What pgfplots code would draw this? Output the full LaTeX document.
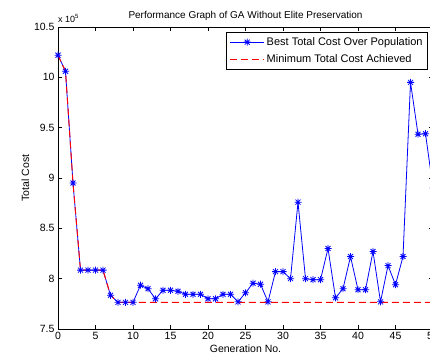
\documentclass[border=0pt]{standalone}
\usepackage{fontspec}
\setmainfont{Liberation Sans}
\usepackage{pgfplots}
\pgfplotsset{compat=1.18}
\pgfdeclareplotmark{mstar}{%
  \pgfpathmoveto{\pgfqpoint{-\pgfplotmarksize}{0pt}}\pgfpathlineto{\pgfqpoint{\pgfplotmarksize}{0pt}}%
  \pgfpathmoveto{\pgfqpoint{0pt}{-\pgfplotmarksize}}\pgfpathlineto{\pgfqpoint{0pt}{\pgfplotmarksize}}%
  \pgfpathmoveto{\pgfqpoint{-.7071\pgfplotmarksize}{-.7071\pgfplotmarksize}}\pgfpathlineto{\pgfqpoint{.7071\pgfplotmarksize}{.7071\pgfplotmarksize}}%
  \pgfpathmoveto{\pgfqpoint{-.7071\pgfplotmarksize}{.7071\pgfplotmarksize}}\pgfpathlineto{\pgfqpoint{.7071\pgfplotmarksize}{-.7071\pgfplotmarksize}}%
  \pgfusepathqstroke}
\pgfplotstableread{
x y
0 10.22
1 10.06
2 8.95
3 8.085
4 8.085
5 8.085
6 8.085
7 7.835
8 7.765
9 7.765
10 7.765
11 7.935
12 7.90
13 7.80
14 7.885
15 7.885
16 7.875
17 7.845
18 7.845
19 7.845
20 7.80
21 7.80
22 7.845
23 7.845
24 7.77
25 7.86
26 7.955
27 7.945
28 7.77
29 8.07
30 8.07
31 8.00
32 8.76
33 8.00
34 7.99
35 7.99
36 8.30
37 7.81
38 7.90
39 8.22
40 7.89
41 7.89
42 8.27
43 7.77
44 8.13
45 7.94
46 8.22
47 9.95
48 9.435
49 9.44
50 8.90
}\best
\pgfplotstableread{
x y
0 10.22
1 10.06
2 8.95
3 8.085
4 8.085
5 8.085
6 8.085
7 7.835
8 7.765
50 7.765
}\minc
\begin{document}
\begin{tikzpicture}[x=1pt,y=1pt]
\useasboundingbox (0,0) rectangle (430,360);
\clip (0,0) rectangle (430,360);
\begin{axis}[
  at={(58pt,31pt)}, anchor=south west,
  scale only axis, width=375pt, height=302pt,
  xmin=0, xmax=50, ymin=7.5, ymax=10.5,
  xtick={0,5,...,50}, ytick={7.5,8,...,10.5},
  yticklabels={7.5,8,8.5,9,9.5,10,10.5},
  tick align=inside, major tick length=4pt,
  axis line style={black, line width=0.8pt},
  every tick/.style={black, line width=0.6pt},
  ticklabel style={font=\fontsize{10.5}{12}\selectfont},
  /pgf/number format/assume math mode=true,
  title={Performance Graph of GA Without Elite Preservation},
  title style={font=\fontsize{10}{12}\selectfont, at={(0.5,1)}, anchor=south, yshift=-3pt},
  xlabel={Generation No.},
  ylabel={Total Cost},
  label style={font=\fontsize{10.5}{12}\selectfont},
  xlabel style={yshift=2pt},
  ylabel style={yshift=-2pt},
  legend style={at={(1,1)}, anchor=north east, xshift=-5pt, yshift=-5pt,
    draw=black, line width=0.8pt, font=\fontsize{11}{13}\selectfont,
    inner sep=3pt, row sep=4pt, cells={anchor=west}},
  legend image code/.code={\draw[mark repeat=2,mark phase=2,#1] plot coordinates {(0pt,0pt) (17pt,0pt) (34pt,0pt)};},
  clip=false,
]
\addplot[blue, draw=blue, line width=0.8pt, mark=mstar, mark size=3.5pt, mark options={solid, line width=0.8pt}] table[x=x,y=y] {\best};
\addlegendentry{Best Total Cost Over Population}
\addplot[red, draw=red, line width=1pt, dash pattern=on 7pt off 4pt] table[x=x,y=y] {\minc};
\addlegendentry{Minimum Total Cost Achieved}
\node[anchor=south west, font=\fontsize{9}{10}\selectfont, inner sep=0pt] at (rel axis cs:0,1) [yshift=4pt] {x 10\textsuperscript{5}};
\end{axis}
\end{tikzpicture}
\end{document}
